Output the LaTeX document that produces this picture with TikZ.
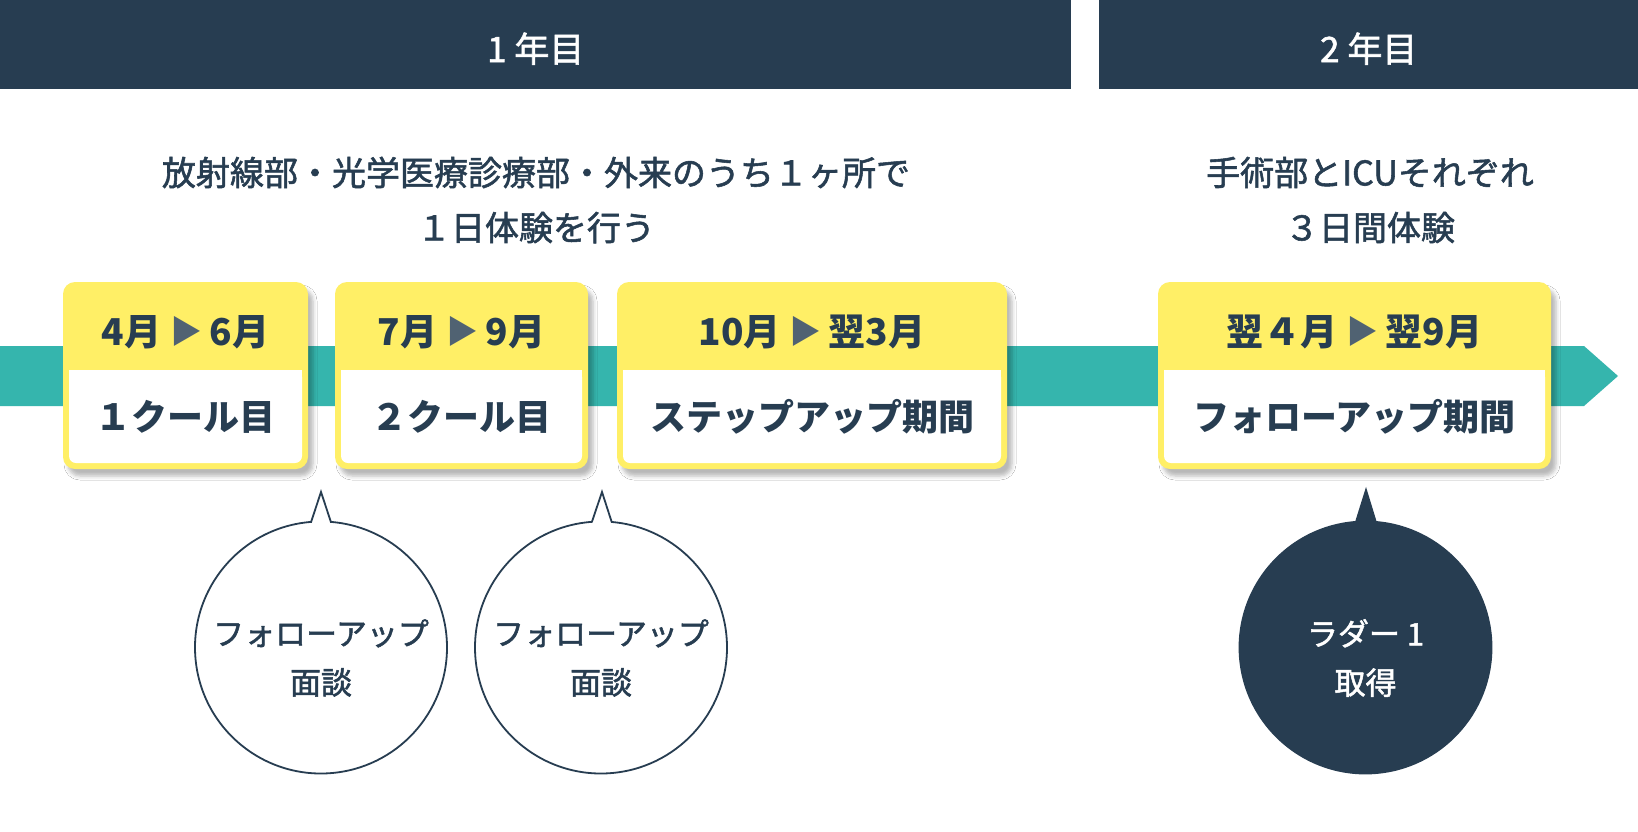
\documentclass[tikz,border=0pt]{standalone}
\usepackage{fontspec}
\setmainfont{Noto Sans CJK JP}
\newfontfamily\jpmid{Noto Sans CJK JP}[FakeBold=1.6]
\usepackage{xcolor}
\usetikzlibrary{shapes.callouts, shadows.blur, positioning}
\definecolor{navy}{RGB}{39,61,81}
\definecolor{teal}{RGB}{53,181,173}
\definecolor{ymark}{RGB}{255,239,102}
\definecolor{trigrey}{RGB}{80,98,114}
\newcommand{\tri}{\hspace{9pt}\raisebox{2pt}{\fontsize{32pt}{32pt}\selectfont\textcolor{trigrey}{▶}}\hspace{7pt}}

\begin{document}
\begin{tikzpicture}[
    x=1pt, y=-1pt,
    yearbar/.style={rectangle, fill=navy, minimum height=89pt, inner sep=0pt, anchor=north west},
    yeartext/.style={text=white, font=\jpmid\fontsize{35pt}{40pt}\selectfont},
    desc/.style={text=navy, align=center, font=\jpmid\fontsize{34pt}{55pt}\selectfont},
    period/.style={rectangle, fill=ymark, rounded corners=12pt, minimum height=187pt, inner sep=0pt,
        blur shadow={shadow xshift=5pt, shadow yshift=-7pt, shadow blur radius=4pt, shadow opacity=28}},
    body/.style={rectangle, fill=white, rounded corners=7pt, minimum height=93pt, inner sep=0pt,
        text=navy, font=\bfseries\fontsize{36pt}{40pt}\selectfont},
    spantext/.style={text=navy, font=\bfseries\fontsize{37pt}{40pt}\selectfont},
    talk/.style={ellipse callout, minimum width=252pt, minimum height=252pt, inner sep=0pt,
        callout pointer arc=9, draw=navy, line width=1.8pt},
    talktext/.style={align=center, font=\jpmid\fontsize{31pt}{49pt}\selectfont}
]
\useasboundingbox (0,0) rectangle (1638,831);
\fill[white] (0,0) rectangle (1638,831);

% year bars
\node[yearbar, minimum width=1071pt] (year1) at (0,0) {};
\node[yearbar, minimum width=539pt] (year2) at (1099,0) {};
\node[yeartext] at ([yshift=-4pt]year1.center) {1 年目};
\node[yeartext] at ([yshift=-4pt]year2.center) {2 年目};

% descriptions
\node[desc] (desc1) at (536,200) {放射線部・光学医療診療部・外来のうち１ヶ所で\\１日体験を行う};
\node[desc] (desc2) at (1370,200) {手術部とICUそれぞれ\\３日間体験};

% timeline band
\fill[teal] (0,346) -- (1584,346) -- (1618,376) -- (1584,406) -- (0,406) -- cycle;

% periods
\node[period, minimum width=245pt] (cool1) at (185.5,375.5) {};
\node[period, minimum width=253pt] (cool2) at (461.5,375.5) {};
\node[period, minimum width=390pt] (step) at (812,375.5) {};
\node[period, minimum width=393pt] (follow) at (1354.5,375.5) {};

\node[body, minimum width=233pt] (cool1body) at (185.5,416.5) {１クール目};
\node[body, minimum width=241pt] (cool2body) at (461.5,416.5) {２クール目};
\node[body, minimum width=378pt] (stepbody) at (812,416.5) {ステップアップ期間};
\node[body, minimum width=381pt] (followbody) at (1354.5,416.5) {フォローアップ期間};
\foreach \b in {cool1body, cool2body, stepbody, followbody}
    \fill[white] (\b.north west) rectangle ([yshift=-10pt]\b.north east);

\node[spantext] (cool1head) at (185.5,332) {4月\tri{}6月};
\node[spantext] (cool2head) at (461.5,332) {7月\tri{}9月};
\node[spantext] (stephead) at (812,332) {10月\tri{}翌3月};
\node[spantext] (followhead) at (1354.5,332) {翌４月\tri{}翌9月};

% interviews
\node[talk, fill=white, callout absolute pointer={(321,492)}] (talk1) at (321,647.5) {};
\node[talk, fill=white, callout absolute pointer={(602,492)}] (talk2) at (601,647.5) {};
\node[talk, fill=navy, callout absolute pointer={(1366,490)}] (ladder) at (1365.5,647.5) {};
\node[talktext, text=navy] at (321,658) {フォローアップ\\面談};
\node[talktext, text=navy] at (601,658) {フォローアップ\\面談};
\node[talktext, text=white] at (1365.5,658) {ラダー 1\\取得};

\end{tikzpicture}
\end{document}
